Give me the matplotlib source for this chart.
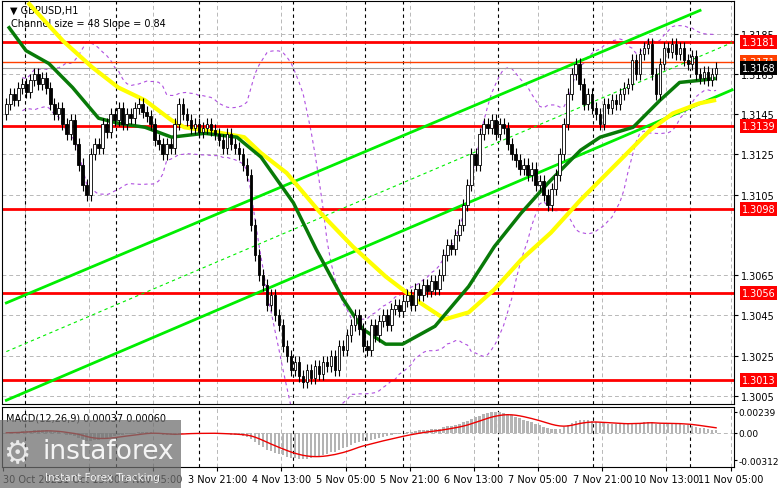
import numpy as np
import pandas as pd
import matplotlib
matplotlib.use("Agg")
import matplotlib.pyplot as plt
from matplotlib.transforms import blended_transform_factory as btf
from matplotlib.patches import Rectangle

closes = [1.3150,1.3155,1.3152,1.3158,1.3160,1.3156,1.3162,1.3165,1.3160,1.3163,
1.3158,1.3150,1.3145,1.3148,1.3140,1.3135,1.3142,1.3130,1.3120,1.3110,
1.3105,1.3125,1.3130,1.3128,1.3140,1.3136,1.3145,1.3142,1.3148,1.3140,
1.3145,1.3143,1.3148,1.3150,1.3146,1.3144,1.3140,1.3132,1.3130,1.3125,
1.3130,1.3128,1.3140,1.3150,1.3145,1.3142,1.3138,1.3140,1.3136,1.3138,
1.3140,1.3137,1.3135,1.3132,1.3128,1.3135,1.3130,1.3128,1.3125,1.3120,
1.3115,1.3090,1.3075,1.3065,1.3060,1.3050,1.3055,1.3045,1.3040,1.3030,
1.3025,1.3018,1.3022,1.3015,1.3012,1.3018,1.3014,1.3020,1.3016,1.3022,
1.3020,1.3025,1.3018,1.3030,1.3028,1.3035,1.3040,1.3045,1.3038,1.3030,
1.3028,1.3040,1.3035,1.3042,1.3045,1.3040,1.3048,1.3050,1.3047,1.3052,
1.3055,1.3050,1.3058,1.3055,1.3060,1.3057,1.3062,1.3058,1.3065,1.3075,
1.3080,1.3078,1.3085,1.3090,1.3100,1.3110,1.3125,1.3120,1.3135,1.3140,
1.3138,1.3142,1.3135,1.3140,1.3138,1.3130,1.3125,1.3122,1.3118,1.3120,
1.3115,1.3118,1.3110,1.3112,1.3105,1.3100,1.3108,1.3115,1.3125,1.3140,
1.3155,1.3165,1.3170,1.3160,1.3150,1.3155,1.3148,1.3145,1.3140,1.3150,
1.3148,1.3152,1.3150,1.3155,1.3158,1.3160,1.3172,1.3165,1.3175,1.3178,
1.3180,1.3165,1.3155,1.3170,1.3178,1.3176,1.3180,1.3175,1.3178,1.3172,
1.3170,1.3174,1.3165,1.3163,1.3166,1.3162,1.3165,1.3168]
first_open = 1.3145

green_x = [0.7,4.9,10.6,16.5,23.0,27.9,34.6,41.2,49.4,57.5,63.5,71.6,77.3,84.0,88.9,94.6,98.8,
           106.9,115.3,121.7,128.4,135.1,143.2,148.1,156.3,163.0,167.9,172.8,176.5]
green_y = [1.31880,1.31766,1.31702,1.31583,1.31430,1.31405,1.31385,1.31336,1.31355,1.31336,1.31237,
           1.31009,1.30777,1.30530,1.30381,1.30307,1.30307,1.30396,1.30594,1.30792,1.30959,1.31108,
           1.31271,1.31336,1.31385,1.31519,1.31608,1.31618,1.31627]
yellow_x = [5.7,14.1,21.5,27.9,34.6,41.2,44.4,52.6,59.3,63.5,69.9,78.3,86.4,94.6,103.0,109.4,115.3,
            121.7,128.4,135.8,143.2,153.1,160.5,166.2,172.8,176.5]
yellow_y = [1.31998,1.31815,1.31682,1.31583,1.31519,1.31420,1.31385,1.31360,1.31336,1.31257,1.31158,
            1.30960,1.30792,1.30643,1.30515,1.30431,1.30465,1.30579,1.30727,1.30861,1.31024,1.31222,
            1.31370,1.31454,1.31504,1.31519]

levels_red = [1.3181, 1.3139, 1.3098, 1.3056, 1.3013]
level_orange = 1.3171
level_now = 1.3168
yticks = [1.3185,1.3165,1.3145,1.3125,1.3105,1.3065,1.3045,1.3025,1.3005]

upper_ch = [(0, 1.30512), (173, 1.31966)]
lower_ch = [(0, 1.30028), (181, 1.31571)]

day_lines = [4.7, 27.4, 48.1, 71.4, 89.4, 98.8, 122.7, 146.4, 170.4]
grid_pos = [4.6, 20.6, 36.6, 52.6, 68.6, 84.6, 100.6, 116.6, 132.6, 148.6, 164.6, 180.6]
xlab_pos = [-0.8, 20.6, 36.6, 52.6, 68.6, 84.6, 100.6, 116.6, 132.6, 148.6, 164.6, 180.6]
xlab_txt = ["30 Oct 2025","31 Oct 13:00","3 Nov 05:00","3 Nov 21:00","4 Nov 13:00","5 Nov 05:00",
            "5 Nov 21:00","6 Nov 13:00","7 Nov 05:00","7 Nov 21:00","10 Nov 13:00","11 Nov 05:00"]

fig = plt.figure(figsize=(7.81, 4.89), dpi=100)
ax = fig.add_axes([0.003, 0.172, 0.937, 0.824])
ax2 = fig.add_axes([0.003, 0.043, 0.937, 0.123])
XL = (-1, 181.5)
FS = 7

c = np.array(closes)
o = np.concatenate([[first_open], c[:-1]])
x = np.arange(len(c))
hi = np.maximum(o, c) + 0.0003
lo = np.minimum(o, c) - 0.0003

s = pd.Series(c)
mid = s.rolling(20, min_periods=5).mean()
sd = s.rolling(20, min_periods=5).std()
ax.plot(x, mid + 2*sd, color="#b050e0", lw=0.8, ls=(0, (3, 3)))
ax.plot(x, mid - 2*sd, color="#b050e0", lw=0.8, ls=(0, (3, 3)))

for yt in yticks:
    ax.axhline(yt, color="#b8b8b8", lw=0.7, ls=(0, (4, 3)), zorder=0)
for xp in grid_pos:
    ax.axvline(xp, color="#b8b8b8", lw=0.7, ls=(0, (4, 3)), zorder=0)
    ax2.axvline(xp, color="#b8b8b8", lw=0.7, ls=(0, (4, 3)), zorder=0)
for d in day_lines:
    ax.axvline(d, color="black", lw=0.8, ls=(0, (3, 3)), zorder=0)
    ax2.axvline(d, color="black", lw=0.8, ls=(0, (3, 3)), zorder=0)

for lv in levels_red:
    ax.axhline(lv, color="#ff0000", lw=2, zorder=2)
ax.axhline(level_orange, color="#ff4000", lw=1, zorder=2)
ax.axhline(level_now, color="#a0a0a0", lw=0.8, zorder=2)

ax.plot([p[0] for p in upper_ch], [p[1] for p in upper_ch], color="#00ee00", lw=2, zorder=3)
ax.plot([p[0] for p in lower_ch], [p[1] for p in lower_ch], color="#00ee00", lw=2, zorder=3)
ax.plot([0, 181], [(upper_ch[0][1]+lower_ch[0][1])/2, 1.31806], color="#00ee00", lw=0.8, ls=(0, (3, 3)), zorder=3)

ax.plot(yellow_x, yellow_y, color="#ffff00", lw=3, zorder=4, solid_joinstyle="round")
ax.plot(green_x, green_y, color="#087a08", lw=2.5, zorder=4, solid_joinstyle="round")

for i in range(len(c)):
    ax.vlines(x[i], lo[i], hi[i], color="black", lw=0.8, zorder=5)
    bull = c[i] >= o[i]
    b0, b1 = min(o[i], c[i]), max(o[i], c[i])
    ax.add_patch(Rectangle((x[i]-0.32, b0), 0.64, max(b1-b0, 0.00005),
                           facecolor="white" if bull else "black", edgecolor="black", lw=0.6, zorder=6))

ax.set_xlim(*XL)
ax.set_ylim(1.30010, 1.32013)
ax.yaxis.tick_right()
ax.set_yticks(yticks)
ax.set_yticklabels([f"{v:.4f}" for v in yticks], fontsize=FS)
ax.tick_params(axis="y", length=3, pad=2)
ax.set_xticks([])
tr = btf(ax.transAxes, ax.transData)
for lv in levels_red:
    ax.text(1.01, lv, f"{lv:.4f}", transform=tr, color="white", fontsize=FS, va="center", ha="left",
            bbox=dict(boxstyle="square,pad=0.2", fc="#ff0000", ec="none"), clip_on=False)
ax.text(1.01, level_orange, f"{level_orange:.4f}", transform=tr, color="white", fontsize=FS, va="center",
        bbox=dict(boxstyle="square,pad=0.2", fc="#ff4000", ec="none"), clip_on=False)
ax.text(1.01, level_now, f"{level_now:.4f}", transform=tr, color="white", fontsize=FS, va="center",
        bbox=dict(boxstyle="square,pad=0.2", fc="black", ec="none"), clip_on=False, zorder=10)
ax.text(0.01, 0.99, "\u25BC GBPUSD,H1", transform=ax.transAxes, fontsize=FS, va="top")
ax.text(0.012, 0.958, "Channel size = 48 Slope = 0.84", transform=ax.transAxes, fontsize=FS, va="top")

e12 = s.ewm(span=12, adjust=False).mean()
e26 = s.ewm(span=26, adjust=False).mean()
macd = e12 - e26
sig = macd.ewm(span=9, adjust=False).mean()
ax2.bar(x, macd, width=0.6, color="#b4b4b4", zorder=2)
ax2.plot(x, sig, color="#ee0000", lw=1, zorder=3)
ax2.axhline(0, color="#b8b8b8", lw=0.7, ls=(0, (4, 3)), zorder=0)
ax2.set_xlim(*XL)
ax2.set_ylim(-0.0039, 0.00296)
ax2.yaxis.tick_right()
ax2.set_yticks([0.00239, 0.0, -0.00312])
ax2.set_yticklabels(["0.00239", "0.00", "-0.00312"], fontsize=6.5)
ax2.tick_params(axis="y", length=2, pad=1)
ax2.set_xticks(xlab_pos)
ax2.set_xticklabels(xlab_txt, fontsize=FS)
ax2.get_xticklabels()[0].set_horizontalalignment("left")
ax2.tick_params(axis="x", length=3, pad=2)
ax2.text(0.005, 0.9, "MACD(12,26,9) 0.00037 0.00060", transform=ax2.transAxes, fontsize=FS, va="top")

fig.patches.append(Rectangle((0, 0), 0.232, 0.14, transform=fig.transFigure, fc="#707070", alpha=0.75, ec="none", zorder=20))
fig.text(0.055, 0.075, "instaforex", fontsize=19, color="white", alpha=0.9, zorder=21, va="center")
fig.text(0.058, 0.022, "Instant Forex Tracking", fontsize=7.5, color="white", alpha=0.9, zorder=21, va="center")
fig.text(0.022, 0.07, "\u2699", fontsize=22, color="white", alpha=0.8, zorder=21, va="center", ha="center")

fig.savefig("out.png", dpi=100)
